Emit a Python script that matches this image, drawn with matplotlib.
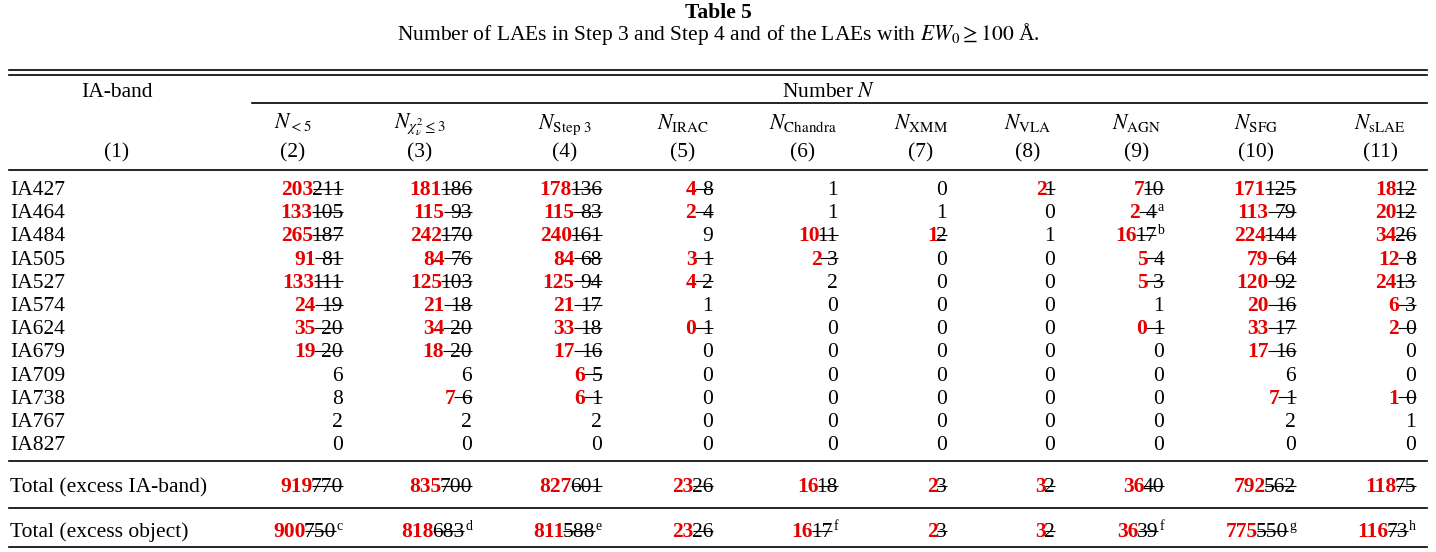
import matplotlib
matplotlib.use("Agg")
import matplotlib.pyplot as plt

plt.rcParams['font.family'] = ['Liberation Serif', 'DejaVu Serif']
plt.rcParams['mathtext.fontset'] = 'stix'

# ---- table content ----
title = "Table 5"
subtitle = r"Number of LAEs in Step 3 and Step 4 and of the LAEs with $EW_0 \geq 100$ Å."

bands = ["IA427", "IA464", "IA484", "IA505", "IA527", "IA574",
         "IA624", "IA679", "IA709", "IA738", "IA767", "IA827"]
total_labels = ["Total (excess IA-band)", "Total (excess object)"]

col_heads = [r"$N_{<5}$", r"$N_{\chi^2_\nu \leq 3}$", r"$N_{\mathrm{Step\ 3}}$",
             r"$N_{\mathrm{IRAC}}$", r"$N_{\mathrm{Chandra}}$", r"$N_{\mathrm{XMM}}$",
             r"$N_{\mathrm{VLA}}$", r"$N_{\mathrm{AGN}}$", r"$N_{\mathrm{SFG}}$",
             r"$N_{\mathrm{sLAE}}$"]
col_nums = ["(2)", "(3)", "(4)", "(5)", "(6)", "(7)", "(8)", "(9)", "(10)", "(11)"]

# "new/old" -> revised value (red) followed by struck-out old value; "^x" -> footnote mark
n_lt5 = ["203/211", "133/105", "265/187", "91/81", "133/111", "24/19",
         "35/20", "19/20", "6", "8", "2", "0"]
n_chi = ["181/186", "115/93", "242/170", "84/76", "125/103", "21/18",
         "34/20", "18/20", "6", "7/6", "2", "0"]
n_step3 = ["178/136", "115/83", "240/161", "84/68", "125/94", "21/17",
           "33/18", "17/16", "6/5", "6/1", "2", "0"]
n_irac = ["4/8", "2/4", "9", "3/1", "4/2", "1", "0/1", "0", "0", "0", "0", "0"]
n_chandra = ["1", "1", "10/11", "2/3", "2", "0", "0", "0", "0", "0", "0", "0"]
n_xmm = ["0", "1", "1/2", "0", "0", "0", "0", "0", "0", "0", "0", "0"]
n_vla = ["2/1", "0", "1", "0", "0", "0", "0", "0", "0", "0", "0", "0"]
n_agn = ["7/10", "2/4^a", "16/17^b", "5/4", "5/3", "1", "0/1", "0", "0", "0", "0", "0"]
n_sfg = ["171/125", "113/79", "224/144", "79/64", "120/92", "20/16",
         "33/17", "17/16", "6", "7/1", "2", "0"]
n_slae = ["18/12", "20/12", "34/26", "12/8", "24/13", "6/3", "2/0", "0", "0", "1/0", "1", "0"]

total_band = ["919/770", "835/700", "827/601", "23/26", "16/18", "2/3", "3/2",
              "36/40", "792/562", "118/75"]
total_obj = ["900/750^c", "818/683^d", "811/588^e", "23/26", "16/17^f", "2/3", "3/2",
             "36/39^f", "775/550^g", "116/73^h"]

columns = [n_lt5, n_chi, n_step3, n_irac, n_chandra, n_xmm, n_vla, n_agn, n_sfg, n_slae]

# ---- layout (pixel coordinates) ----
W, H = 1436, 552
FS = 15.5
RED = "#e60000"
col_right = [343, 472, 602, 713, 838, 947, 1055, 1164, 1296, 1416]
col_center = [293, 420, 565, 683, 803, 921, 1028, 1137, 1256, 1380]
row_base0, row_step = 195, 23.2
band_base, obj_base = 492, 537
x_left, x_right = 9, 1427

fig = plt.figure(figsize=(W / 100, H / 100), dpi=100)
ax = fig.add_axes([0, 0, 1, 1])
ax.set_xlim(0, W)
ax.set_ylim(H, 0)
ax.axis("off")
renderer = fig.canvas.get_renderer()


def width_of(t):
    return t.get_window_extent(renderer).width


def draw_cell(s, xr, yb, ndig):
    sup = ""
    if "^" in s:
        s, sup = s.split("^")
    x = xr
    if sup:
        t = ax.text(x, yb - 7, sup, fontsize=10, ha="right", va="baseline")
        x -= width_of(t) + 1
    if "/" not in s:
        ax.text(x, yb, s, fontsize=FS, ha="right", va="baseline")
        return
    new, old = s.split("/")
    t = ax.text(x, yb, old, fontsize=FS, ha="right", va="baseline")
    box = width_of(t) - 1
    if len(old) < ndig:
        box += 8   # short old values were padded with a space before the strike
    ax.plot([x - box, x], [yb - 6.5, yb - 6.5], color="black", lw=0.8,
            solid_capstyle="butt")
    ax.text(x - box + 1, yb, new, fontsize=FS, ha="right", va="baseline",
            color=RED, fontweight="bold")


# title
ax.text(W / 2, 18, title, fontsize=FS, fontweight="bold", ha="center", va="baseline")
ax.text(W / 2, 40, subtitle, fontsize=FS, ha="center", va="baseline")

# rules
rule = dict(color="black", lw=1.2)
ax.plot([x_left, x_right], [70, 70], **rule)
ax.plot([x_left, x_right], [74.5, 74.5], **rule)
ax.plot([252, x_right], [103, 103], **rule)
for yy in (170, 461, 508, 547):
    ax.plot([x_left, x_right], [yy, yy], **rule)

# header
ax.text(117, 97, "IA-band", fontsize=FS, ha="center", va="baseline")
ax.text(117, 157, "(1)", fontsize=FS, ha="center", va="baseline")
ax.text(829, 97, "Number $N$", fontsize=FS, ha="center", va="baseline")
for xc, head, num in zip(col_center, col_heads, col_nums):
    ax.text(xc, 129, head, fontsize=FS, ha="center", va="baseline")
    ax.text(xc, 157, num, fontsize=FS, ha="center", va="baseline")

# body
for i, band in enumerate(bands):
    ax.text(10, row_base0 + i * row_step, band, fontsize=FS, va="baseline")
ax.text(10, band_base, total_labels[0], fontsize=FS, va="baseline")
ax.text(10, obj_base, total_labels[1], fontsize=FS, va="baseline")

for j, col in enumerate(columns):
    cells = col + [total_band[j], total_obj[j]]
    olds = [c.split("^")[0].split("/")[1] for c in cells if "/" in c]
    ndig = max(len(o) for o in olds)
    for i, cell in enumerate(col):
        draw_cell(cell, col_right[j], row_base0 + i * row_step, ndig)
    draw_cell(total_band[j], col_right[j], band_base, ndig)
    draw_cell(total_obj[j], col_right[j], obj_base, ndig)

fig.savefig("out.png", dpi=100)
